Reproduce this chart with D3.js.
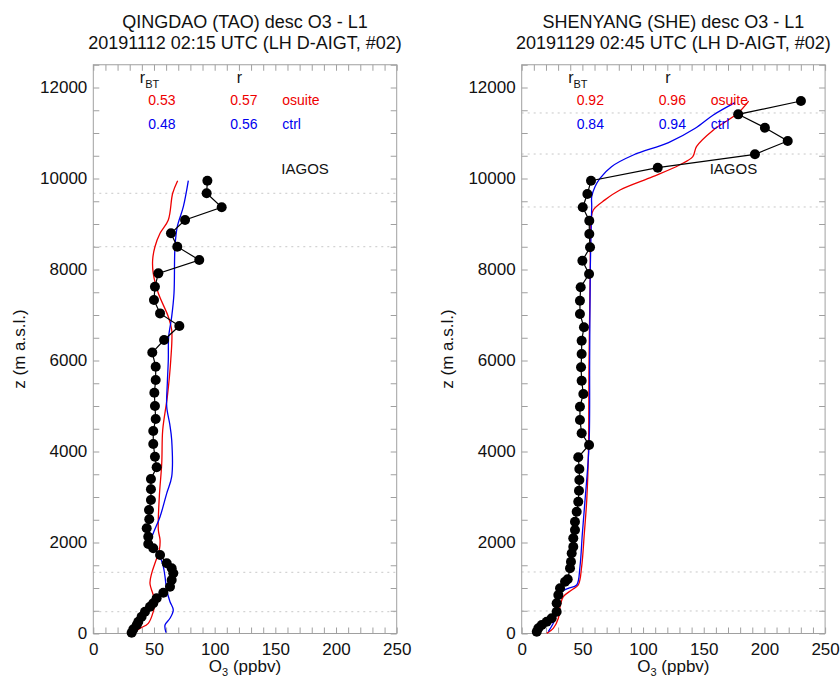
<!DOCTYPE html>
<html>
<head>
<meta charset="utf-8">
<script src="https://cdn.jsdelivr.net/npm/d3@7"></script>
<style>
  body { margin: 0; background: #fff; }
  svg { font-family: "Liberation Sans", Arial, Helvetica, sans-serif; }
</style>
</head>
<body>
<div id="chart"></div>
<script>
// ---- data: [altitude m, O3 ppbv] ----
const taoIagos = [
  [9952, 94.0], [9675, 93.4], [9367, 105.8], [9088, 75.6], [8796, 64.0], [8501, 69.2],
  [8209, 87.3], [7915, 53.6], [7622, 50.8], [7328, 50.0], [7035, 55.0], [6758, 70.9],
  [6451, 58.3], [6174, 48.6], [5864, 51.4], [5571, 51.4], [5292, 50.3], [5000, 50.8],
  [4714, 51.4], [4451, 49.4], [4165, 49.4], [3886, 50.8], [3653, 52.2], [3396, 47.5],
  [3169, 47.5], [2934, 47.5], [2714, 45.9], [2510, 46.1], [2312, 44.0], [2127, 45.3],
  [1967, 45.3], [1872, 49.4], [1725, 55.0], [1543, 60.5], [1433, 64.6], [1323, 65.9],
  [1176, 64.6], [1029, 63.2], [897, 57.7], [774, 52.2], [664, 49.4], [589, 46.7],
  [479, 42.6], [369, 39.8], [259, 37.1], [187, 35.8], [92, 33.0], [18, 31.6]
];
const taoOsuite = [
  [9952, 69.5], [9675, 65.4], [9088, 61.8], [8796, 55.0], [8501, 50.8], [8209, 48.9],
  [7915, 49.4], [7477, 53.6], [6963, 61.8], [6670, 64.6], [6000, 63.8], [5205, 61.0],
  [4473, 57.2], [3741, 56.4], [3007, 54.4], [2275, 53.6], [2055, 55.0], [1835, 54.4],
  [1543, 50.8], [1323, 48.1], [1103, 46.7], [846, 49.4], [699, 50.8], [479, 49.4],
  [224, 45.3], [114, 38.5], [18, 31.6]
];
const taoCtrl = [
  [9952, 78.3], [9380, 74.2], [8940, 69.2], [8501, 67.3], [7477, 66.5], [6963, 64.6],
  [6523, 62.1], [6011, 61.8], [5500, 61.0], [4985, 60.5], [4600, 63.0], [4253, 64.6],
  [3446, 64.6], [3081, 60.5], [2567, 55.0], [2202, 49.4], [2000, 46.8], [1872, 50.8],
  [1688, 55.0], [1468, 57.7], [1248, 59.1], [956, 60.5], [699, 63.2], [516, 65.9],
  [334, 63.2], [187, 59.1], [18, 59.9]
];
const sheIagos = [
  [11703, 230.1], [11410, 178.4], [11117, 200.4], [10824, 219.2], [10532, 192.2], [10238, 112.1],
  [9952, 57.1], [9659, 54.1], [9367, 50.3], [9073, 55.7], [8780, 55.7], [8488, 56.3],
  [8193, 50.0], [7901, 55.5], [7609, 48.6], [7314, 48.0], [7022, 48.0], [6730, 51.3],
  [6435, 49.4], [6143, 49.4], [5851, 48.9], [5556, 49.4], [5264, 50.8], [4985, 48.0],
  [4692, 48.0], [4400, 49.4], [4143, 55.5], [3872, 46.6], [3615, 47.5], [3374, 47.5],
  [3138, 47.2], [2897, 46.6], [2677, 45.3], [2457, 43.9], [2275, 43.9], [2092, 42.5],
  [1908, 42.5], [1763, 41.2], [1578, 40.6], [1433, 39.8], [1191, 37.9], [1138, 35.7],
  [993, 31.6], [846, 30.2], [664, 28.8], [479, 28.8], [334, 24.7], [259, 20.6],
  [187, 16.5], [114, 13.7], [40, 12.4]
];
const sheOsuite = [
  [11700, 187.0], [11432, 178.0], [11066, 158.0], [10700, 144.0], [10480, 141.0], [10297, 130.0],
  [10040, 108.0], [9747, 81.0], [9530, 68.6], [9308, 59.0], [9088, 57.1], [8000, 56.5],
  [6000, 55.5], [4000, 55.0], [2934, 53.6], [2202, 51.6], [1468, 49.4], [1066, 46.6],
  [956, 41.2], [809, 34.3], [589, 31.6], [334, 30.2], [114, 26.0], [4, 20.6]
];
const sheCtrl = [
  [11666, 175.8], [11395, 157.9], [11103, 143.0], [10790, 121.0], [10516, 92.0], [10260, 74.0],
  [10004, 64.5], [9820, 60.4], [9601, 57.7], [9381, 57.7], [8000, 56.5], [6000, 56.0],
  [4143, 55.5], [2934, 52.2], [2202, 50.0], [1468, 48.0], [1066, 45.3], [993, 38.4],
  [919, 33.0], [736, 30.2], [443, 28.8], [224, 26.0], [40, 21.9]
];
const taoLevels = [9675, 8501, 1345, 479];
const sheLevels = [11440, 10538, 9374, 1352, 495];

const xTicks = [0, 50, 100, 150, 200, 250];
const yTicks = [0, 2000, 4000, 6000, 8000, 10000, 12000];

const panels = [
  { x0: 93.3, title: ["QINGDAO (TAO) desc O3 - L1", "20191112 02:15 UTC (LH D-AIGT, #02)"],
    iagos: taoIagos, osuite: taoOsuite, ctrl: taoCtrl, levels: taoLevels,
    rbt: ["0.53", "0.48"], r: ["0.57", "0.56"] },
  { x0: 521.7, title: ["SHENYANG (SHE) desc O3 - L1", "20191129 02:45 UTC (LH D-AIGT, #02)"],
    iagos: sheIagos, osuite: sheOsuite, ctrl: sheCtrl, levels: sheLevels,
    rbt: ["0.92", "0.84"], r: ["0.96", "0.94"] }
];

const width = 840, height = 679;
const plotW = 303.4, yBottom = 633.5, yTop = 64.75;
const RED = "#ee0000", BLUE = "#0000ee", TXT = "#111";

const svg = d3.select("#chart").append("svg")
  .attr("width", width).attr("height", height);
svg.append("rect").attr("width", width).attr("height", height).attr("fill", "#fff");

const y = d3.scaleLinear().domain([0, 12500]).range([yBottom, yTop]);

panels.forEach(p => {
  const x = d3.scaleLinear().domain([0, 250]).range([p.x0, p.x0 + plotW]);
  const g = svg.append("g");
  const cx = p.x0 + plotW / 2;

  // titles
  g.selectAll("text.title").data(p.title).enter().append("text")
    .attr("class", "title")
    .attr("x", cx).attr("y", (d, i) => 28 + i * 21)
    .attr("text-anchor", "middle").attr("font-size", 18).attr("fill", TXT)
    .text(d => d);

  // dotted level lines
  g.selectAll("line.lev").data(p.levels).enter().append("line")
    .attr("x1", p.x0).attr("x2", p.x0 + plotW)
    .attr("y1", d => y(d)).attr("y2", d => y(d))
    .attr("stroke", "#c8c8c8").attr("stroke-width", 1).attr("stroke-dasharray", "2,4");

  // frame
  g.append("rect").attr("x", p.x0).attr("y", yTop).attr("width", plotW).attr("height", yBottom - yTop)
    .attr("fill", "none").attr("stroke", "#a0a0a0").attr("stroke-width", 1);

  // tick marks (inward) via axes
  const minorX = d3.range(0, 251, 10), minorY = d3.range(0, 12501, 500);
  const tickStyle = sel => { sel.select(".domain").remove(); sel.selectAll("line").attr("stroke", "#a0a0a0"); };
  g.append("g").attr("transform", `translate(0,${yBottom})`)
    .call(d3.axisBottom(x).tickValues(minorX).tickSize(-6).tickFormat("")).call(tickStyle);
  g.append("g").attr("transform", `translate(0,${yTop})`)
    .call(d3.axisTop(x).tickValues(minorX).tickSize(-6).tickFormat("")).call(tickStyle);
  g.append("g").attr("transform", `translate(${p.x0},0)`)
    .call(d3.axisLeft(y).tickValues(minorY).tickSize(-6).tickFormat("")).call(tickStyle);
  g.append("g").attr("transform", `translate(${p.x0 + plotW},0)`)
    .call(d3.axisRight(y).tickValues(minorY).tickSize(-6).tickFormat("")).call(tickStyle);

  // tick labels
  const labStyle = sel => {
    sel.select(".domain").remove();
    sel.selectAll("text").attr("font-size", 17).attr("fill", TXT)
      .attr("font-family", "'Liberation Sans', Arial, sans-serif");
  };
  g.append("g").attr("transform", `translate(0,${yBottom})`)
    .call(d3.axisBottom(x).tickValues(xTicks).tickSize(0).tickPadding(9).tickFormat(d3.format("d"))).call(labStyle);
  g.append("g").attr("transform", `translate(${p.x0},0)`)
    .call(d3.axisLeft(y).tickValues(yTicks).tickSize(0).tickPadding(6).tickFormat(d3.format("d"))).call(labStyle);

  // axis titles
  const xl = g.append("text").attr("x", cx).attr("y", 672).attr("text-anchor", "middle")
    .attr("font-size", 17).attr("fill", TXT);
  xl.append("tspan").text("O");
  xl.append("tspan").text("3").attr("font-size", 11).attr("dy", 4);
  xl.append("tspan").text(" (ppbv)").attr("dy", -4);

  g.append("text").attr("transform", `translate(${p.x0 - 68.3},349) rotate(-90)`)
    .attr("text-anchor", "middle").attr("font-size", 17).attr("fill", TXT)
    .text("z (m a.s.l.)");

  // model lines
  const line = d3.line().x(d => x(d[1])).y(d => y(d[0])).curve(d3.curveCatmullRom.alpha(0.5));
  g.append("path").datum(p.osuite).attr("d", line)
    .attr("fill", "none").attr("stroke", RED).attr("stroke-width", 1.3);
  g.append("path").datum(p.ctrl).attr("d", line)
    .attr("fill", "none").attr("stroke", BLUE).attr("stroke-width", 1.3);

  // IAGOS observations
  const obsLine = d3.line().x(d => x(d[1])).y(d => y(d[0]));
  g.append("path").datum(p.iagos).attr("d", obsLine)
    .attr("fill", "none").attr("stroke", "#000").attr("stroke-width", 1.2);
  g.selectAll("circle.obs").data(p.iagos).enter().append("circle")
    .attr("class", "obs")
    .attr("cx", d => x(d[1])).attr("cy", d => y(d[0])).attr("r", 5)
    .attr("fill", "#000");

  // legend
  const rb = g.append("text").attr("x", p.x0 + 46.5).attr("y", 83)
    .attr("font-size", 16).attr("fill", TXT);
  rb.append("tspan").text("r");
  rb.append("tspan").text("BT").attr("font-size", 11).attr("dy", 5);
  g.append("text").attr("x", p.x0 + 143.5).attr("y", 83).attr("font-size", 16).attr("fill", TXT).text("r");

  const rows = [{ c: RED, name: "osuite", i: 0 }, { c: BLUE, name: "ctrl", i: 1 }];
  rows.forEach(row => {
    const yy = 105 + row.i * 23.5;
    g.append("text").attr("x", p.x0 + 55).attr("y", yy).attr("font-size", 14).attr("fill", row.c).text(p.rbt[row.i]);
    g.append("text").attr("x", p.x0 + 137).attr("y", yy).attr("font-size", 14).attr("fill", row.c).text(p.r[row.i]);
    g.append("text").attr("x", p.x0 + 189).attr("y", yy).attr("font-size", 14).attr("fill", row.c).text(row.name);
  });
  g.append("text").attr("x", p.x0 + 188).attr("y", 174).attr("font-size", 15).attr("fill", TXT).text("IAGOS");
});
</script>
</body>
</html>
